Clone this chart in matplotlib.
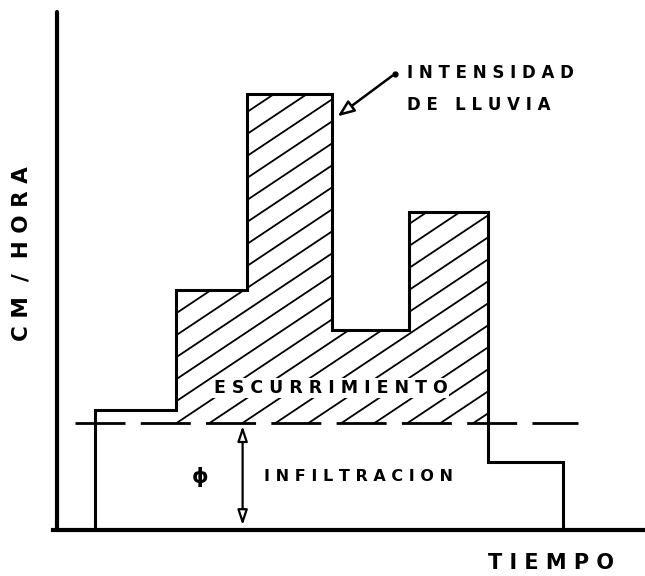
import numpy as np
import matplotlib.pyplot as plt
from matplotlib.collections import LineCollection
from matplotlib.patches import Polygon

# hyetograph (time units / cm per hour)
edges = [0.49, 1.53, 2.44, 3.53, 4.51, 5.53, 6.49]
intensity = [3.0, 6.0, 10.9, 5.0, 7.95, 1.7]
phi = 2.67                 # infiltration index
runoff_bars = [1, 2, 3, 4]  # bars that carry hatched runoff

plt.rcParams['font.family'] = ['DejaVu Sans']
fig = plt.figure(figsize=(6.45, 5.76), dpi=100)
ax = fig.add_axes([57 / 645, 46 / 576, 588 / 645, 530 / 576])
ax.set_xlim(0, 7.54)
ax.set_ylim(0, 13.25)
ax.axis('off')

# axes drawn by hand, heavy
ax.plot([0, 0], [0, 12.95], color='black', lw=3, solid_capstyle='round', clip_on=False)
ax.plot([-0.05, 7.6], [0, 0], color='black', lw=3, clip_on=False)

# outline of the rain blocks
ax.stairs(intensity, edges, baseline=0, color='black', lw=2.2, zorder=3)

# runoff region: blocks above phi
pts = [(edges[runoff_bars[0]], phi)]
for i in runoff_bars:
    pts.append((edges[i], intensity[i]))
    pts.append((edges[i + 1], intensity[i]))
pts.append((edges[runoff_bars[-1] + 1], phi))
region = Polygon(pts, closed=True, fc='none', ec='none')
ax.add_patch(region)

slope = 1.3
step = 0.55
x0, x1 = edges[runoff_bars[0]], edges[runoff_bars[-1] + 1]
segs = []
for k in range(-20, 40):
    c = phi + k * step
    segs.append([(x0, c), (x1, c + slope * (x1 - x0))])
hatch = LineCollection(segs, colors='black', linewidths=1.3, zorder=2)
hatch.set_clip_path(region)
ax.add_collection(hatch)

# phi line
ax.plot([0.23, 6.68], [phi, phi], color='black', lw=2, ls=(0, (18, 5.5)), zorder=3)

# phi double arrow
ax.annotate('', xy=(2.38, phi), xytext=(2.38, 0.05),
            arrowprops=dict(arrowstyle='<|-|>,head_length=0.9,head_width=0.3',
                            fc='white', ec='black', lw=1.6))

txt = dict(fontweight='bold', color='black')
ax.text(1.83, 1.33, 'ϕ', fontsize=15, ha='center', va='center', **txt)
ax.text(3.86, 1.33, 'I N F I L T R A C I O N', fontsize=11.5, ha='center', va='center', **txt)
ax.text(3.51, 3.55, 'E S C U R R I M I E N T O', fontsize=12.5, ha='center', va='center',
        bbox=dict(fc='white', ec='none', pad=1), zorder=4, **txt)
ax.text(4.49, 11.43, 'I N T E N S I D A D', fontsize=12, ha='left', va='center', **txt)
ax.text(4.49, 10.63, 'D E   L L U V I A', fontsize=12, ha='left', va='center', **txt)

ax.annotate('', xy=(3.57, 10.3), xytext=(4.33, 11.4),
            arrowprops=dict(arrowstyle='-|>,head_length=1.0,head_width=0.4',
                            fc='white', ec='black', lw=1.8))
ax.plot([4.33], [11.4], 'o', color='black', ms=3.5)

ax.text(-0.45, 6.9, 'C M  /  H O R A', fontsize=15.5, rotation=90, ha='center', va='center',
        clip_on=False, **txt)
ax.text(6.33, -0.83, 'T I E M P O', fontsize=15, ha='center', va='center', clip_on=False, **txt)

fig.savefig('out.png', dpi=100)
